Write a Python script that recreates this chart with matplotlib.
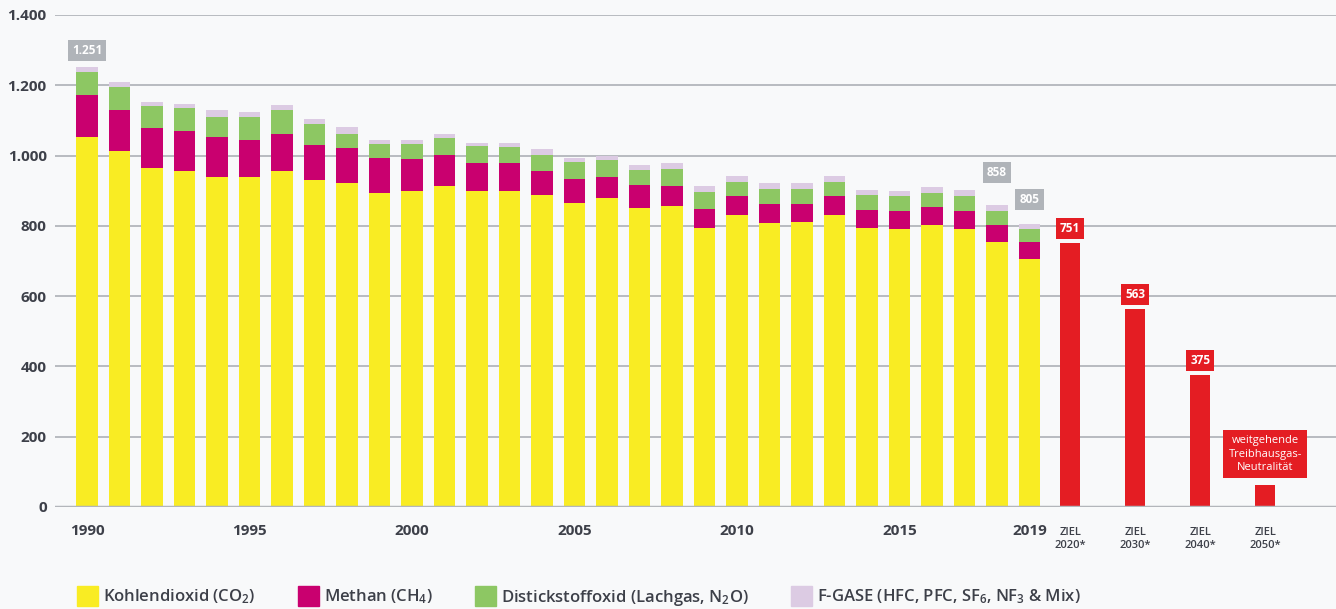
import matplotlib
matplotlib.use("Agg")
import matplotlib.pyplot as plt
from matplotlib.patches import Patch
import numpy as np

plt.rcParams['font.family'] = ['Open Sans', 'DejaVu Sans']
plt.rcParams['mathtext.fontset'] = 'custom'
plt.rcParams['mathtext.rm'] = 'Open Sans:semibold'
plt.rcParams['mathtext.it'] = 'Open Sans:semibold'

# Treibhausgasemissionen in Deutschland (Mio. t CO2-Äquivalente)
years = list(range(1990, 2020))
co2 = [1052, 1013, 964, 957, 938, 938, 956, 931, 923, 894,
       900, 914, 900, 900, 887, 866, 880, 850, 856, 793,
       831, 809, 810, 831, 793, 792, 802, 792, 754, 706]
ch4 = [121, 116, 114, 113, 114, 106, 106, 98, 98, 98,
       91, 88, 80, 79, 69, 68, 60, 65, 57, 56,
       53, 53, 52, 53, 52, 50, 51, 51, 49, 47]
n2o = [66, 65, 63, 65, 57, 65, 67, 61, 41, 42,
       42, 48, 46, 46, 47, 47, 46, 45, 48, 46,
       42, 42, 42, 42, 42, 42, 41, 41, 39, 38]
fgas = [12, 14, 12, 11, 21, 14, 15, 15, 19, 11,
        12, 10, 11, 10, 16, 11, 13, 12, 18, 17,
        16, 17, 17, 17, 16, 16, 17, 18, 16, 14]

target_labels = ['ZIEL\n2020*', 'ZIEL\n2030*', 'ZIEL\n2040*', 'ZIEL\n2050*']
target_values = [751, 563, 375, 62.5]
target_texts = ['751', '563', '375', 'weitgehende\nTreibhausgas-\nNeutralität']

highlight_years = [1990, 2018, 2019]
highlight_texts = ['1.251', '858', '805']

year_ticks = [1990, 1995, 2000, 2005, 2010, 2015, 2019]
y_ticks = [0, 200, 400, 600, 800, 1000, 1200, 1400]
y_ticklabels = ['0', '200', '400', '600', '800', '1.000', '1.200', '1.400']

legend_labels = ['Kohlendioxid (CO$_2$)', 'Methan (CH$_4$)',
                 'Distickstoffoxid (Lachgas, N$_2$O)',
                 'F-GASE (HFC, PFC, SF$_6$, NF$_3$ & Mix)']

c_co2 = '#f9ec23'
c_ch4 = '#c9006f'
c_n2o = '#8dc763'
c_fg = '#dccbe3'
c_red = '#e41d23'
c_grey = '#b0b4b9'
c_text = '#3d4049'

fig = plt.figure(figsize=(13.36, 6.09), dpi=100, facecolor='#f8f9fa')
ax = fig.add_axes([55 / 1336, 1 - 507 / 609, 1 - 55 / 1336, 492 / 609])
ax.set_facecolor('none')

x = np.arange(len(years))
co2_a, ch4_a, n2o_a, fg_a = map(np.array, (co2, ch4, n2o, fgas))
w = 0.65
ax.bar(x, co2_a, w, color=c_co2, zorder=3)
ax.bar(x, ch4_a, w, bottom=co2_a, color=c_ch4, zorder=3)
ax.bar(x, n2o_a, w, bottom=co2_a + ch4_a, color=c_n2o, zorder=3)
ax.bar(x, fg_a, w, bottom=co2_a + ch4_a + n2o_a, color=c_fg, zorder=3)
totals = co2_a + ch4_a + n2o_a + fg_a

xt = len(years) - 1 + 1.25 + 2 * np.arange(len(target_values))
ax.bar(xt, target_values, 0.62, color=c_red, zorder=3)

# graue Summen-Labels
offsets = [47, 94, 70]
for yr, txt, off in zip(highlight_years, highlight_texts, offsets):
    i = years.index(yr)
    ax.text(i, totals[i] + off, txt, ha='center', va='center', color='white',
            fontsize=8.5, fontweight='bold', zorder=5,
            bbox=dict(boxstyle='square,pad=0.35', fc=c_grey, ec='none'))

# rote Ziel-Labels
for xi, v, txt in zip(xt[:3], target_values[:3], target_texts[:3]):
    ax.text(xi, v + 42, txt, ha='center', va='center', color='white',
            fontsize=8.5, fontweight='bold', zorder=5,
            bbox=dict(boxstyle='square,pad=0.35', fc=c_red, ec='none'))
ax.text(xt[3], target_values[3] + 88, target_texts[3], ha='center', va='center',
        color='white', fontsize=8, linespacing=1.3, zorder=5,
        bbox=dict(boxstyle='square,pad=0.45', fc=c_red, ec='none'))

ax.set_xlim(-32 / 32.5, (1336 - 87) / 32.5)
ax.set_ylim(0, 1400)
ax.set_yticks(y_ticks)
ax.set_yticklabels(y_ticklabels, fontsize=11, fontweight='bold', color=c_text)
ax.tick_params(axis='y', length=0, pad=6)
ax.grid(axis='y', color='#b3b6bb', linewidth=1.3, zorder=0)
ax.axhline(0, color='#b3b6bb', linewidth=2.5, zorder=4)
for s in ax.spines.values():
    s.set_visible(False)

ax.set_xticks([years.index(y) for y in year_ticks])
ax.set_xticklabels([str(y) for y in year_ticks], fontsize=11, fontweight='bold',
                   color=c_text)
ax.tick_params(axis='x', length=0, pad=12)
for xi, lab in zip(xt, target_labels):
    ax.text(xi, -56, lab, ha='center', va='top', fontsize=8, color=c_text,
            fontweight='semibold', linespacing=1.25)

handles = [Patch(color=c) for c in (c_co2, c_ch4, c_n2o, c_fg)]
fig.legend(handles, legend_labels, loc='center left', ncol=4,
           bbox_to_anchor=(62 / 1336, 1 - 597 / 609), frameon=False,
           prop={'size': 12, 'weight': 'semibold'}, labelcolor=c_text,
           handlelength=1.25, handleheight=1.4,
           handletextpad=0.3, columnspacing=2.55)

fig.savefig('out.png', dpi=100, facecolor=fig.get_facecolor())
